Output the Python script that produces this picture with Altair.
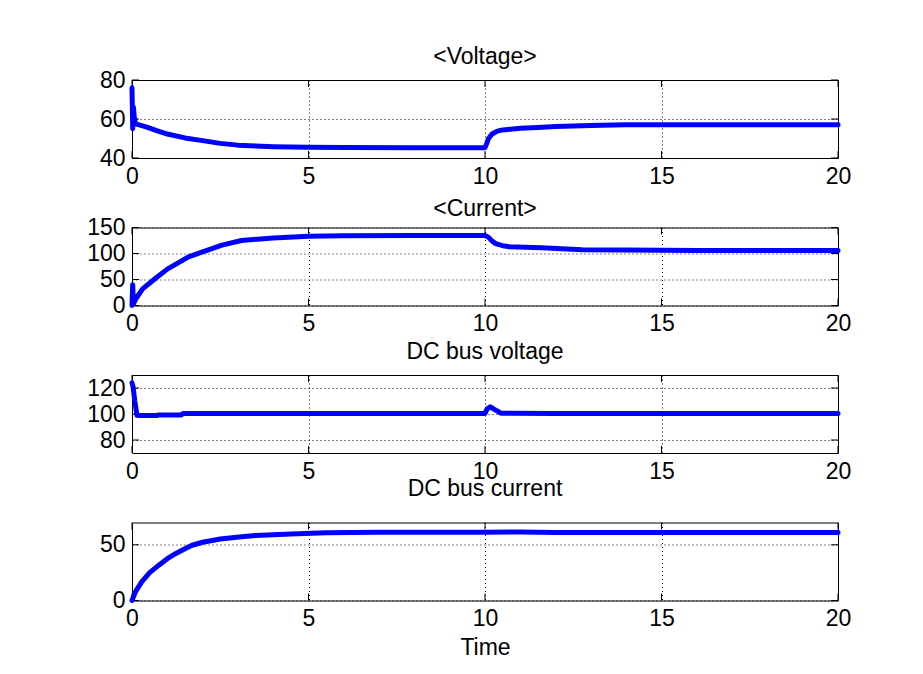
import altair as alt
import pandas as pd

# ---- data ----
x_ticks = [0, 5, 10, 15, 20]

volt_t = [0, 0.02, 0.04, 0.07, 0.1, 0.2, 0.4, 0.7, 1.0, 1.5, 2.0, 2.5, 3.0, 3.5, 4.0, 5.0, 6.0, 8.0,
          10.0, 10.05, 10.1, 10.2, 10.35, 10.5, 11.0, 11.5, 12.0, 13.0, 14.0, 16.0, 20.0]
volt_v = [76, 55, 66, 60, 57.5, 57, 56, 54, 52.3, 50.3, 48.9, 47.5, 46.6, 46.1, 45.8, 45.5, 45.4, 45.3,
          45.3, 47.5, 50, 52.3, 53.8, 54.4, 55.2, 55.7, 56.2, 56.7, 57, 57, 57]
volt_ticks = [40, 60, 80]

curr_t = [0, 0.02, 0.04, 0.1, 0.3, 0.66, 1.0, 1.6, 2.0, 2.55, 3.1, 4.0, 5.0, 6.0, 8.0,
          10.0, 10.1, 10.2, 10.3, 10.5, 10.7, 11.6, 12.75, 14.0, 16.0, 20.0]
curr_v = [0, 40, 3, 12, 32, 52, 70, 93.6, 103, 116, 125, 130, 133, 134, 134.5,
          134.5, 131, 124, 119, 115, 113, 111, 107, 106.5, 106, 106]
curr_ticks = [0, 50, 100, 150]

dcv_t = [0, 0.03, 0.08, 0.14, 0.2, 0.7, 0.75, 1.4, 1.45, 5.0, 10.0, 10.06, 10.15, 10.3, 10.4,
         10.45, 12.0, 20.0]
dcv_v = [124, 121, 110, 99, 98.8, 98.8, 99.3, 99.3, 100.4, 100.4, 100.4, 103.9, 105.5, 103, 101.5,
         100.6, 100.4, 100.4]
dcv_ticks = [80, 100, 120]

dci_t = [0, 0.1, 0.28, 0.5, 0.76, 1.0, 1.23, 1.5, 1.7, 2.0, 2.5, 3.1, 3.5, 4.5, 5.5, 7.0, 10.0, 11.0,
         12.0, 20.0]
dci_v = [0, 8, 17, 25, 31.7, 37.5, 42, 46.5, 49.6, 52.3, 55.2, 57.2, 58.3, 59.6, 60.8, 61.2, 61.3,
         61.4, 61, 61]
dci_ticks = [0, 50]

titles = ["<Voltage>", "<Current>", "DC bus voltage", "DC bus current"]
y_domains = [[40, 80], [0, 150], [70, 130], [0, 70]]

W, H = 706, 78
TL = 7
FONT = "Liberation Sans"
FS = 23


def panel(ts, vs, ydom, yvals, title, toff, xtitle):
    df = pd.DataFrame({"t": ts, "v": vs})
    xenc = alt.X("t:Q", scale=alt.Scale(domain=[0, 20], nice=False, zero=False),
                 axis=alt.Axis(values=x_ticks, title=xtitle, grid=True))
    yenc = alt.Y("v:Q", scale=alt.Scale(domain=ydom, nice=False, zero=False),
                 axis=alt.Axis(values=yvals, title=None, grid=True))
    line = alt.Chart(df).mark_line(color="#0000ff", strokeWidth=5, strokeJoin="round",
                                   strokeCap="round").encode(x=xenc, y=yenc)
    xt = alt.Chart(pd.DataFrame({"t": x_ticks}))
    yt = alt.Chart(pd.DataFrame({"v": yvals}))
    xb = xt.mark_rule(color="black").encode(x=xenc, y=alt.value(H), y2=alt.value(H - TL))
    xtp = xt.mark_rule(color="black").encode(x=xenc, y=alt.value(0), y2=alt.value(TL))
    yl = yt.mark_rule(color="black").encode(y=yenc, x=alt.value(0), x2=alt.value(TL))
    yr = yt.mark_rule(color="black").encode(y=yenc, x=alt.value(W - TL), x2=alt.value(W))
    return alt.layer(xb, xtp, yl, yr, line).properties(
        width=W, height=H,
        title=alt.TitleParams(title, offset=toff, font=FONT, fontSize=FS, fontWeight="normal",
                              color="black", anchor="middle", frame="group", baseline="alphabetic"))


p1 = panel(volt_t, volt_v, y_domains[0], volt_ticks, titles[0], -18, None)
p2 = panel(curr_t, curr_v, y_domains[1], curr_ticks, titles[1], -22, None)
p3 = panel(dcv_t, dcv_v, y_domains[2], dcv_ticks, titles[2], -7, None)
p4 = panel(dci_t, dci_v, y_domains[3], dci_ticks, titles[3], 3, "Time")

chart = alt.vconcat(p1, p2, p3, p4, spacing=69.5, bounds="flush").properties(
    padding={"left": 78, "top": 37, "right": 60, "bottom": 20},
    background="white",
).configure_view(stroke="black", strokeWidth=1).configure_axis(
    labelFont=FONT, labelFontSize=FS, labelColor="black", labelPadding=7,
    titleFont=FONT, titleFontSize=FS, titleFontWeight="normal", titleColor="black", titlePadding=6,
    domain=False, ticks=False, tickSize=0,
    gridColor="black", gridDash=[1, 3], gridWidth=1, gridOpacity=1,
    labelFlush=False, labelOverlap=False,
)

chart.save("out.html", embed_options={"renderer": "svg", "actions": False})
